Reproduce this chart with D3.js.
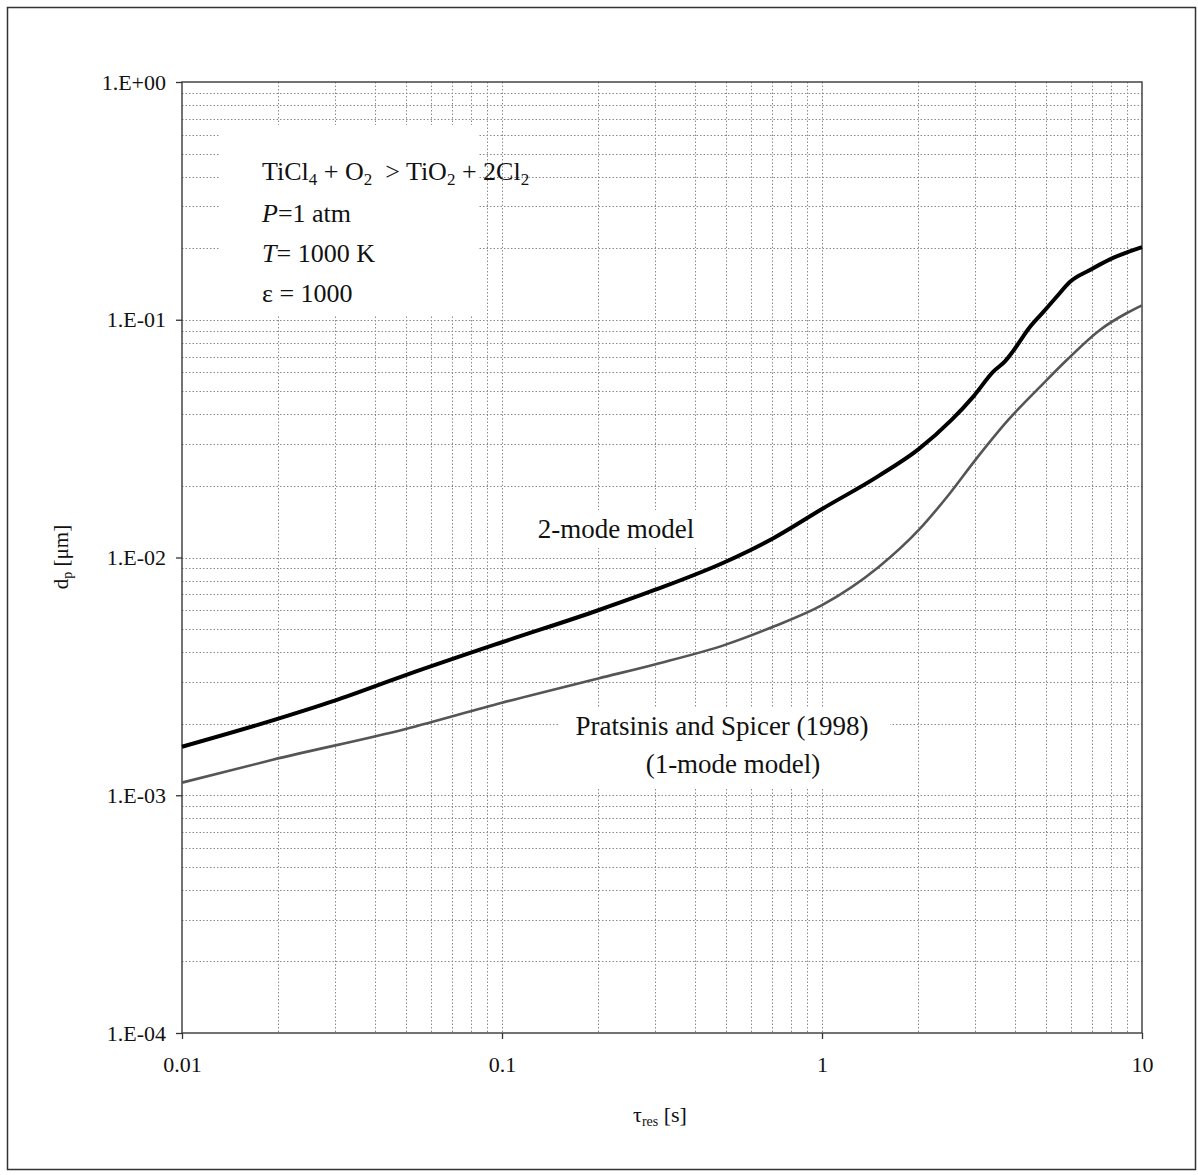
<!DOCTYPE html>
<html><head><meta charset="utf-8">
<script src="https://cdn.jsdelivr.net/npm/d3@7/dist/d3.min.js"></script>
<style>
html,body{margin:0;padding:0;background:#fff;}
svg text{font-family:"Liberation Serif","Times New Roman",serif;fill:#111;}
</style></head>
<body>
<svg id="chart" width="1198" height="1175"></svg>
<script>
// ---- data ----
const twoModeT = [0.01, 0.02, 0.03, 0.05, 0.1, 0.2, 0.3, 0.5, 0.7, 1, 1.5, 2, 2.54, 2.97, 3.43, 3.73, 3.96, 4.47, 4.92, 5.41, 5.96, 6.88, 7.94, 10];
const twoModeD = [1.6e-3, 2.1e-3, 2.5e-3, 3.2e-3, 4.4e-3, 6.0e-3, 7.3e-3, 9.6e-3, 1.2e-2, 1.6e-2, 2.2e-2, 2.85e-2, 3.79e-2, 4.75e-2, 6.05e-2, 6.68e-2, 7.4e-2, 9.35e-2, 0.108, 0.125, 0.1445, 0.162, 0.1795, 0.202];
const oneModeT = [0.01, 0.0192, 0.05, 0.1, 0.2, 0.3, 0.5, 0.7, 1, 1.5, 2, 2.5, 3, 3.82, 4.92, 5.82, 7.39, 9, 10];
const oneModeD = [1.13e-3, 1.41e-3, 1.9e-3, 2.45e-3, 3.1e-3, 3.55e-3, 4.3e-3, 5.1e-3, 6.3e-3, 9.1e-3, 1.3e-2, 1.85e-2, 2.55e-2, 3.79e-2, 5.4e-2, 6.77e-2, 9.06e-2, 0.107, 0.115];
const xTickValues = [0.01, 0.1, 1, 10];
const xTickLabels = ["0.01", "0.1", "1", "10"];
const yTickValues = [1, 0.1, 0.01, 0.001, 0.0001];
const yTickLabels = ["1.E+00", "1.E-01", "1.E-02", "1.E-03", "1.E-04"];

const svg = d3.select("#chart");
const L = 182, R = 1142, T = 82, B = 1033;
const x = d3.scaleLog().domain([0.01, 10]).range([L, R]);
const y = d3.scaleLog().domain([1e-4, 1]).range([B, T]);

// outer frame
svg.append("rect").attr("x", 7.5).attr("y", 7.5).attr("width", 1188).attr("height", 1162)
  .attr("fill", "none").attr("stroke", "#333").attr("stroke-width", 1.5);

// gridlines
const minorX = [], minorY = [];
for (let e = -2; e < 1; e++) for (let m = 1; m < 10; m++) minorX.push(m * Math.pow(10, e));
for (let e = -4; e < 0; e++) for (let m = 1; m < 10; m++) minorY.push(m * Math.pow(10, e));
const grid = svg.append("g").attr("stroke", "#8a8a8a").attr("stroke-width", 1).attr("stroke-dasharray", "1.5,2");
grid.selectAll("line.gx").data(minorX.filter(v => v > 0.0100001 && v < 9.999)).enter().append("line")
  .attr("x1", d => Math.round(x(d)) + 0.5).attr("x2", d => Math.round(x(d)) + 0.5).attr("y1", T).attr("y2", B);
grid.selectAll("line.gy").data(minorY.filter(v => v > 1.00001e-4 && v < 0.9999)).enter().append("line")
  .attr("y1", d => Math.round(y(d)) + 0.5).attr("y2", d => Math.round(y(d)) + 0.5).attr("x1", L).attr("x2", R);

// white boxes behind labels
svg.append("rect").attr("x", 220).attr("y", 125).attr("width", 258).attr("height", 191).attr("fill", "#fff");
svg.append("rect").attr("x", 560).attr("y", 708).attr("width", 330).attr("height", 81).attr("fill", "#fff");
svg.append("rect").attr("x", 522).attr("y", 510).attr("width", 188).attr("height", 38).attr("fill", "#fff");

// plot frame
svg.append("rect").attr("x", L).attr("y", T).attr("width", R - L).attr("height", B - T)
  .attr("fill", "none").attr("stroke", "#444").attr("stroke-width", 1.5);

// axes
const yAxis = d3.axisLeft(y).tickValues(yTickValues).tickFormat((d, i) => yTickLabels[i]).tickSize(6).tickPadding(10);
const gy = svg.append("g").attr("transform", `translate(${L},0)`).call(yAxis);
gy.select(".domain").remove();
gy.selectAll("line").attr("stroke", "#333").attr("stroke-width", 1.3);
gy.selectAll("text").attr("font-size", 22).attr("font-family", "Liberation Serif").attr("fill", "#111");

const xAxis = d3.axisBottom(x).tickValues(xTickValues).tickFormat((d, i) => xTickLabels[i]).tickSize(6).tickPadding(17);
const gx = svg.append("g").attr("transform", `translate(0,${B})`).call(xAxis);
gx.select(".domain").remove();
gx.selectAll("line").attr("stroke", "#333").attr("stroke-width", 1.3);
gx.selectAll("text").attr("font-size", 22).attr("font-family", "Liberation Serif").attr("fill", "#111");

// curves
const line = d3.line().x(d => x(d[0])).y(d => y(d[1])).curve(d3.curveMonotoneX);
svg.append("path").datum(oneModeT.map((t, i) => [t, oneModeD[i]])).attr("d", line)
  .attr("fill", "none").attr("stroke", "#555").attr("stroke-width", 2.6);
svg.append("path").datum(twoModeT.map((t, i) => [t, twoModeD[i]])).attr("d", line)
  .attr("fill", "none").attr("stroke", "#000").attr("stroke-width", 4);

// axis titles
const xt = svg.append("text").attr("x", 660).attr("y", 1122).attr("text-anchor", "middle").attr("font-size", 22);
xt.append("tspan").text("τ");
xt.append("tspan").text("res").attr("font-size", 14).attr("dy", 4);
xt.append("tspan").text(" [s]").attr("dy", -4);

const yt = svg.append("text").attr("transform", "translate(68,557) rotate(-90)").attr("text-anchor", "middle").attr("font-size", 21);
yt.append("tspan").text("d");
yt.append("tspan").text("p").attr("font-size", 14).attr("dy", 4);
yt.append("tspan").text(" [μm]").attr("dy", -4);

// annotation
function sub(t, s) { t.append("tspan").text(s).attr("font-size", 17).attr("dy", 5); }
function up(t, s) { t.append("tspan").text(s).attr("dy", -5); }
const a1 = svg.append("text").attr("x", 262).attr("y", 180).attr("font-size", 26);
a1.append("tspan").text("TiCl"); sub(a1, "4"); up(a1, " + O"); sub(a1, "2"); up(a1, "\u00a0\u00a0> TiO"); sub(a1, "2"); up(a1, " + 2Cl"); sub(a1, "2");
const a2 = svg.append("text").attr("x", 262).attr("y", 222).attr("font-size", 26);
a2.append("tspan").text("P").attr("font-style", "italic"); a2.append("tspan").text("=1 atm");
const a3 = svg.append("text").attr("x", 262).attr("y", 262).attr("font-size", 26);
a3.append("tspan").text("T").attr("font-style", "italic"); a3.append("tspan").text("= 1000 K");
svg.append("text").attr("x", 262).attr("y", 302).attr("font-size", 26).text("ε = 1000");

svg.append("text").attr("x", 616).attr("y", 538).attr("text-anchor", "middle").attr("font-size", 27).text("2-mode model");
svg.append("text").attr("x", 722).attr("y", 735).attr("text-anchor", "middle").attr("font-size", 27).text("Pratsinis and Spicer (1998)");
svg.append("text").attr("x", 733).attr("y", 773).attr("text-anchor", "middle").attr("font-size", 27).text("(1-mode model)");
</script>
</body></html>
